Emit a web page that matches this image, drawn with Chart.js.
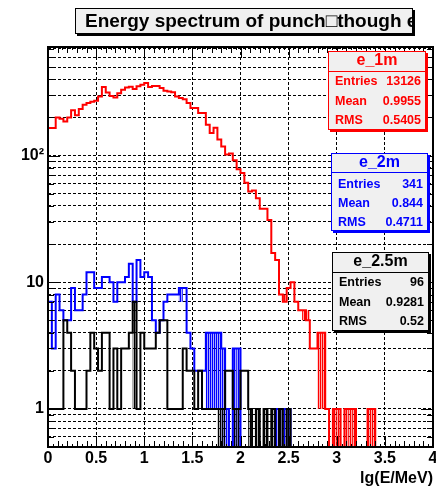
<!DOCTYPE html>
<html><head><meta charset="utf-8">
<script src="https://cdn.jsdelivr.net/npm/chart.js@4/dist/chart.umd.min.js"></script>
<style>html,body{margin:0;padding:0;background:#fff}#wrap{width:436px;height:487px;position:relative}</style>
</head><body><div id="wrap"><canvas id="c" width="436" height="487"></canvas></div>
<script>
// ---------------- data ----------------
const BIN_START = 0;
const BIN_WIDTH = 0.04;
const xTicks = [0, 0.5, 1, 1.5, 2, 2.5, 3, 3.5, 4];
const xTickLabels = ['0', '0.5', '1', '1.5', '2', '2.5', '3', '3.5', '4'];
const yTicks = [0.5,0.6,0.7,0.8,0.9,1,2,3,4,5,6,7,8,9,10,20,30,40,50,60,70,80,90,100,200,300,400,500,600,700];
const yMajor = [1, 10, 100];
const yMajorLabels = ['1', '10', '10\u00b2'];
const xTitle = 'lg(E/MeV)';
const chartTitle = 'Energy spectrum of punch\u25a1though e';

const e1m = [165,165,200,195,186,200,228,208,233,252,
  260,266,271,293,348,315,296,288,311,331,
  345,350,335,352,362,374,348,354,354,341,
  325,320,316,293,285,279,260,237,237,217,
  217,175,151,166,134,118,102,104,92,78,
  73,61,52,53,46,38,38,31,17,15,
  8,7,9,10,7,6,6,5,3,3,
  4,4,1,0,1,1,0,1,1,1,
  0,0,0,1,1,0,0,0,0,0,
  0,0,0,0,0,0,0,0,0,0];
const e2m = [7,3,8,6,5,5,9,6,6,8,
  12,12,9,9,11,11,10,7,10,10,
  11,14,7,15,11,12,11,5,4,5,
  7,8,8,8,9,9,4,3,2,2,
  2,4,4,4,4,3,1,0,3,3,
  0,0,0,0,0,0,0,0,0,1,
  1,1,1,0,0,0,0,0,0,0,
  0,0,0,0,0,0,0,0,0,0,
  0,0,0,0,0,0,0,0,0,0,
  0,0,0,0,0,0,0,0,0,0];
const e25m = [1,1,1,1,5,4,2,1,1,1,
  2,4,3,2,4,4,1,3,1,3,
  3,4,7,1,4,3,3,3,4,5,
  5,1,1,1,1,3,2,2,1,2,
  1,1,1,1,1,1,2,2,1,1,
  2,2,1,0,1,0,1,0,1,0,
  1,0,1,0,0,0,0,0,0,0,
  0,0,0,0,0,0,0,0,0,0,
  0,0,0,0,0,0,0,0,0,0,
  0,0,0,0,0,0,0,0,0,0];
// densely striped bins: [bin, low, high]
const e1mHatch = [[61,7,8],[66,5,6],[67,5,6],[70,1,4],[71,1,4],[74,0,1],[75,0,1],[77,0,1],[78,0,1],[79,0,1],[83,0,1],[84,0,1]];
const e2mHatch = [[34,7,9],[41,1,4],[42,1,4],[43,1,4],[44,1,4],[45,0,3],[46,0,1],[48,0,3],[49,0,3],[59,0,1],[60,0,1],[61,0,1],[62,0,1]];
const e25mHatch = [[22,1,7],[44,0,1],[45,0,1],[48,0,1],[49,0,1],[52,0,1],[54,0,1],[56,0,1],[58,0,1],[60,0,1],[62,0,1]];

const statNames = ['e_1m', 'e_2m', 'e_2.5m'];
const statEntries = ['13126', '341', '96'];
const statMean = ['0.9955', '0.844', '0.9281'];
const statRMS = ['0.5405', '0.4711', '0.52'];

// ---------------- styling / build ----------------
const COLORS = ['#ff0000', '#0000ff', '#000000'];
const STRIPE = ['rgba(255,0,0,0.35)', 'rgba(0,0,255,0.35)', 'rgba(0,0,0,0.3)'];
const FONT = "'Liberation Sans', Arial, Helvetica, sans-serif";
const ZERO = 0.1; // empty bins drawn below the axis minimum (clipped at the frame)

function histPoints(vals) {
  const pts = vals.map((v, i) => ({x: BIN_START + i * BIN_WIDTH, y: v > 0 ? v : ZERO}));
  pts.push({x: BIN_START + vals.length * BIN_WIDTH, y: pts[pts.length - 1].y});
  return pts;
}
const hists = [e1m, e2m, e25m];
const hatches = [e1mHatch, e2mHatch, e25mHatch];

function makeStripe(c1, c2) {
  const p = document.createElement('canvas');
  p.width = 2; p.height = 4;
  const g = p.getContext('2d');
  g.fillStyle = c1; g.fillRect(0, 0, 1, 4);
  g.fillStyle = c2; g.fillRect(1, 0, 1, 4);
  return p;
}

const hatchPlugin = {
  id: 'hatch',
  beforeDatasetsDraw(chart) {
    const {ctx, chartArea: a, scales: {x, y}} = chart;
    ctx.save();
    ctx.beginPath(); ctx.rect(a.left, a.top, a.right - a.left, a.bottom - a.top); ctx.clip();
    hatches.forEach((list, k) => {
      const pat = ctx.createPattern(makeStripe(COLORS[k], STRIPE[k]), 'repeat');
      ctx.fillStyle = pat;
      list.forEach(([bin, lo, hi]) => {
        const x0 = x.getPixelForValue(BIN_START + bin * BIN_WIDTH);
        const x1 = x.getPixelForValue(BIN_START + (bin + 1) * BIN_WIDTH);
        const yh = y.getPixelForValue(hi);
        const yl = lo > 0 ? y.getPixelForValue(lo) : a.bottom;
        ctx.fillRect(x0, yh, x1 - x0, yl - yh);
      });
    });
    ctx.restore();
  }
};

function statBox(ctx, b, k) {
  const col = COLORS[k];
  ctx.save();
  ctx.fillStyle = col;
  ctx.fillRect(b.x + 2, b.y + 2, b.w, b.h);
  ctx.fillStyle = '#f0f0f0';
  ctx.fillRect(b.x, b.y, b.w, b.h);
  ctx.strokeStyle = col; ctx.lineWidth = 1;
  ctx.strokeRect(b.x + 0.5, b.y + 0.5, b.w - 1, b.h - 1);
  ctx.beginPath(); ctx.moveTo(b.x, b.sep + 0.5); ctx.lineTo(b.x + b.w, b.sep + 0.5); ctx.stroke();
  ctx.fillStyle = col;
  ctx.textBaseline = 'middle';
  ctx.font = 'bold 16px ' + FONT;
  ctx.textAlign = 'center';
  ctx.fillText(statNames[k], b.x + b.w / 2, b.t);
  ctx.font = 'bold 12.5px ' + FONT;
  const rows = [['Entries', statEntries[k]], ['Mean', statMean[k]], ['RMS', statRMS[k]]];
  rows.forEach((r, i) => {
    ctx.textAlign = 'left'; ctx.fillText(r[0], b.x + 7, b.rows[i]);
    ctx.textAlign = 'right'; ctx.fillText(r[1], b.x + b.w - 5, b.rows[i]);
  });
  ctx.restore();
}

const decorPlugin = {
  id: 'decor',
  afterDatasetsDraw(chart) {
    const {ctx, chartArea: a, scales: {x, y}} = chart;
    ctx.save();
    ctx.strokeStyle = '#000';
    ctx.lineWidth = 1;
    // x ticks (inside, bottom and top)
    for (let i = 0; i <= 80; i++) {
      const v = i * 0.05;
      const px = Math.round(x.getPixelForValue(v)) + 0.5;
      const len = (i % 10 === 0) ? 11 : (i % 2 === 0 ? 6 : 3);
      ctx.beginPath();
      ctx.moveTo(px, a.bottom); ctx.lineTo(px, a.bottom - len);
      ctx.moveTo(px, a.top); ctx.lineTo(px, a.top + len);
      ctx.stroke();
    }
    // y ticks (inside, left and right)
    yTicks.forEach(v => {
      const py = Math.round(y.getPixelForValue(v)) + 0.5;
      const len = yMajor.includes(v) ? 12 : 6;
      ctx.beginPath();
      ctx.moveTo(a.left, py); ctx.lineTo(a.left + len, py);
      ctx.moveTo(a.right, py); ctx.lineTo(a.right - len, py);
      ctx.stroke();
    });
    // frame
    ctx.lineWidth = 2;
    ctx.strokeRect(a.left, a.top, a.right - a.left, a.bottom - a.top);
    ctx.restore();
  },
  afterDraw(chart) {
    const ctx = chart.ctx;
    // title box
    ctx.save();
    ctx.fillStyle = '#000';
    ctx.fillRect(77, 10, 338, 26);
    ctx.fillStyle = '#f0f0f0';
    ctx.fillRect(75, 8, 338, 26);
    ctx.strokeStyle = '#000'; ctx.lineWidth = 1;
    ctx.strokeRect(75.5, 8.5, 337, 25);
    ctx.save();
    ctx.beginPath(); ctx.rect(76, 9, 336, 24); ctx.clip();
    ctx.fillStyle = '#000';
    ctx.font = 'bold 19px ' + FONT;
    ctx.textBaseline = 'alphabetic';
    ctx.textAlign = 'left';
    ctx.fillText(chartTitle, 85, 27);
    ctx.restore();
    ctx.restore();
    statBox(ctx, {x: 328, y: 51, w: 98, h: 79, sep: 71, t: 61, rows: [82, 101.5, 121]}, 0);
    statBox(ctx, {x: 331, y: 153, w: 97, h: 78, sep: 172, t: 162.5, rows: [185, 204, 223]}, 1);
    statBox(ctx, {x: 332, y: 252, w: 97, h: 79, sep: 272, t: 262, rows: [283, 302.5, 322]}, 2);
  }
};

const datasets = hists.map((vals, k) => ({
  label: statNames[k],
  data: histPoints(vals),
  borderColor: COLORS[k],
  borderWidth: 2,
  pointRadius: 0,
  stepped: true,
  fill: false,
  order: 2 - k,
  clip: 0
}));

new Chart(document.getElementById('c'), {
  type: 'line',
  data: {datasets},
  options: {
    responsive: false,
    animation: false,
    devicePixelRatio: 1,
    events: [],
    layout: {padding: {top: 47, right: 3, left: 0, bottom: 0}},
    plugins: {legend: {display: false}, tooltip: {enabled: false}, title: {display: false}},
    scales: {
      x: {
        type: 'linear', min: 0, max: 4,
        afterBuildTicks: s => { s.ticks = xTicks.map(v => ({value: v})); },
        afterFit: s => { s.height = 40; s.paddingLeft = 0; s.paddingRight = 0; },
        ticks: {
          autoSkip: false, maxRotation: 0, padding: 2,
          color: '#000', font: {family: FONT, size: 16, weight: 'bold'},
          callback: v => { const i = xTicks.indexOf(v); return i >= 0 ? xTickLabels[i] : ''; }
        },
        grid: {color: '#000', lineWidth: 1, drawTicks: false},
        border: {display: false, dash: [3, 2]},
        title: {display: true, text: xTitle, align: 'end', color: '#000',
          font: {family: FONT, size: 16, weight: 'bold', lineHeight: 1}, padding: {top: 0, bottom: 0}}
      },
      y: {
        type: 'logarithmic', min: 0.5, max: 720,
        afterBuildTicks: s => { s.ticks = yTicks.map(v => ({value: v, major: yMajor.includes(v)})); },
        afterFit: s => { s.width = 48; s.paddingTop = 0; s.paddingBottom = 0; },
        ticks: {
          autoSkip: false, padding: 4,
          color: '#000', font: {family: FONT, size: 16, weight: 'bold'},
          callback: v => { const i = yMajor.indexOf(v); return i >= 0 ? yMajorLabels[i] : ''; }
        },
        grid: {color: '#000', lineWidth: 1, drawTicks: false},
        border: {display: false, dash: [3, 2]}
      }
    }
  },
  plugins: [hatchPlugin, decorPlugin]
});
</script>
</body></html>
